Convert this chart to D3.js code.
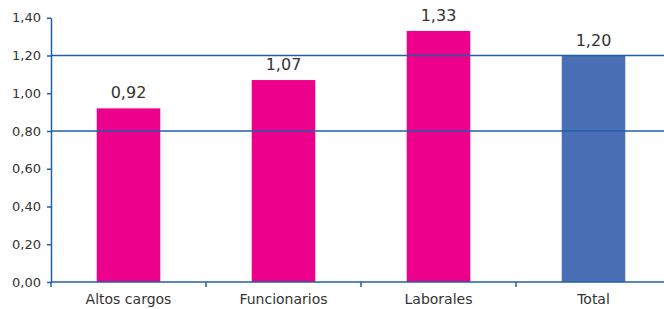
<!DOCTYPE html>
<html>
<head>
<meta charset="utf-8">
<script src="https://cdn.jsdelivr.net/npm/d3@7"></script>
<style>
  body { margin: 0; background: #fff; }
  text { font-family: "DejaVu Sans", sans-serif; fill: #333; }
</style>
</head>
<body>
<div id="chart"></div>
<script>
const categories = ['Altos cargos', 'Funcionarios', 'Laborales', 'Total'];
const values = [0.92, 1.07, 1.33, 1.20];
const barColors = ['#ec008c', '#ec008c', '#ec008c', '#4a6fb5'];
const yTicks = [0, 0.2, 0.4, 0.6, 0.8, 1.0, 1.2, 1.4];
const gridValues = [0.8, 1.2];

const width = 664, height = 309;
const fmt = v => d3.format('.2f')(v).replace('.', ',');
const axisColor = '#1f5fa8';

const svg = d3.select('#chart').append('svg')
  .attr('width', width)
  .attr('height', height);

const x = d3.scaleBand().domain(categories).range([51, 671]).paddingInner(0.59).paddingOuter(0.295);
const y = d3.scaleLinear().domain([0, 1.4]).range([282, 17.75]);

// bars
svg.selectAll('rect.bar')
  .data(values)
  .enter()
  .append('rect')
  .attr('class', 'bar')
  .attr('x', (d, i) => x(categories[i]))
  .attr('y', d => y(d))
  .attr('width', x.bandwidth())
  .attr('height', d => y(0) - y(d))
  .attr('fill', (d, i) => barColors[i]);

// gridlines at 0,80 and 1,20
svg.selectAll('line.grid')
  .data(gridValues)
  .enter()
  .append('line')
  .attr('x1', 51).attr('x2', width)
  .attr('y1', d => y(d)).attr('y2', d => y(d))
  .attr('stroke', axisColor)
  .attr('stroke-width', 1.5);

// value labels
svg.selectAll('text.val')
  .data(values)
  .enter()
  .append('text')
  .attr('x', (d, i) => x(categories[i]) + x.bandwidth() / 2)
  .attr('y', d => y(d) - 10)
  .attr('text-anchor', 'middle')
  .style('font-size', '16px')
  .text(d => fmt(d));

// y axis
const yAxis = svg.append('g')
  .attr('transform', 'translate(51,0)')
  .call(d3.axisLeft(y).tickValues(yTicks).tickFormat(fmt).tickSize(4).tickSizeOuter(0));
yAxis.select('.domain').attr('stroke', axisColor).attr('stroke-width', 1.5);
yAxis.selectAll('.tick line').attr('stroke', axisColor).attr('stroke-width', 1.5);
yAxis.selectAll('.tick text').attr('x', -10).style('font-size', '13px').attr('fill', '#333');

// x axis with ticks at band boundaries
const xAxisG = svg.append('g').attr('transform', 'translate(0,282)');
xAxisG.append('line')
  .attr('x1', 51).attr('x2', width)
  .attr('stroke', axisColor).attr('stroke-width', 1.5);
const step = x.step();
const boundaries = categories.map(c => x(c) - (step - x.bandwidth()) / 2);
xAxisG.selectAll('line.tk')
  .data(boundaries)
  .enter()
  .append('line')
  .attr('x1', d => d).attr('x2', d => d)
  .attr('y1', 0).attr('y2', 5)
  .attr('stroke', axisColor).attr('stroke-width', 1.5);
xAxisG.selectAll('text')
  .data(categories)
  .enter()
  .append('text')
  .attr('x', d => x(d) + x.bandwidth() / 2)
  .attr('y', 22)
  .attr('text-anchor', 'middle')
  .style('font-size', '14px')
  .text(d => d);
</script>
</body>
</html>
